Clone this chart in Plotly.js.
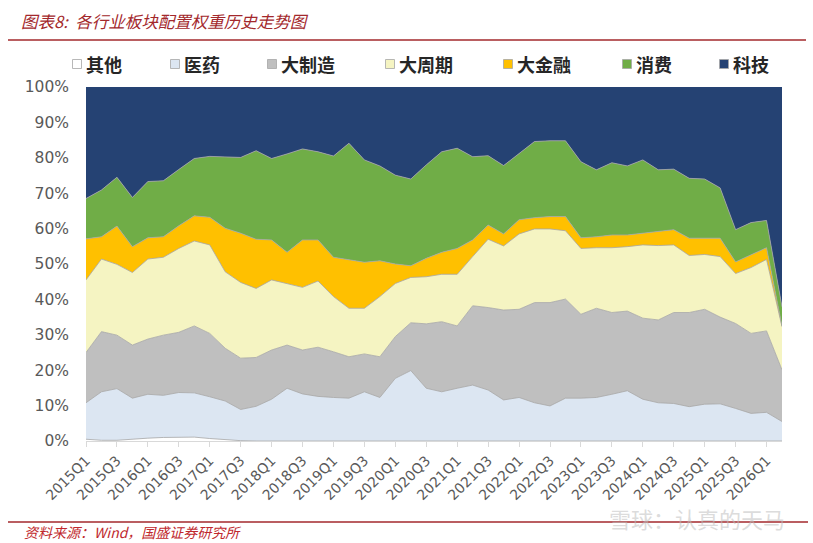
<!DOCTYPE html>
<html>
<head>
<meta charset="utf-8">
<script src="https://cdn.plot.ly/plotly-3.0.1.min.js"></script>
<style>html,body{margin:0;padding:0;background:#fff;}#chart{width:813px;height:543px;}</style>
</head>
<body>
<div id="chart"></div>
<script>
// ---- data (percent weights per quarter) ----
var quarters = ["2015Q1","2015Q2","2015Q3","2015Q4","2016Q1","2016Q2","2016Q3","2016Q4",
  "2017Q1","2017Q2","2017Q3","2017Q4","2018Q1","2018Q2","2018Q3","2018Q4",
  "2019Q1","2019Q2","2019Q3","2019Q4","2020Q1","2020Q2","2020Q3","2020Q4",
  "2021Q1","2021Q2","2021Q3","2021Q4","2022Q1","2022Q2","2022Q3","2022Q4",
  "2023Q1","2023Q2","2023Q3","2023Q4","2024Q1","2024Q2","2024Q3","2024Q4",
  "2025Q1","2025Q2","2025Q3","2025Q4","2026Q1","2026Q2"];

var seriesNames = ["其他","医药","大制造","大周期","大金融","消费","科技"];

var other   = [0.5,0.2,0.2,0.6,0.8,1.0,1.1,1.1,0.7,0.3,0.1,0,0,0,0,0,0,0,0.1,0.1,0,0,0,0,0,0,0.2,0,0,0,0,0,0,0,0,0,0,0,0,0,0,0,0,0,0,0];
var pharma  = [10.3,13.7,14.6,11.5,12.4,11.9,12.6,12.5,11.8,11.0,8.8,9.8,11.8,14.9,13.3,12.6,12.3,12.1,13.8,12.2,17.7,19.9,14.9,13.9,14.9,15.8,14.2,11.6,12.3,10.8,9.9,12.1,12.1,12.3,13.2,14.2,11.8,10.8,10.6,9.7,10.4,10.5,9.2,7.8,8.1,5.5];
var manuf   = [14.2,17.0,15.1,15.0,15.6,17.0,17.0,18.9,17.9,14.9,14.5,13.8,13.9,12.2,12.4,13.9,12.9,11.7,10.7,11.5,11.8,13.5,18.2,19.8,17.6,22.4,23.3,25.4,24.9,28.3,29.2,28.0,23.7,25.2,23.1,22.5,22.9,23.4,25.7,26.6,26.8,24.5,24.0,22.6,23.0,14.6];
var cyclic  = [20.5,20.5,20.0,20.5,22.6,22.0,23.7,24.0,25.0,21.6,21.4,19.5,19.8,17.4,17.7,18.7,15.6,13.7,12.9,17.0,15.0,12.8,13.3,13.4,14.6,13.9,19.3,18.1,21.3,20.8,20.8,19.3,18.6,17.1,18.3,18.2,20.7,21.0,19.1,16.1,15.5,17.1,14.1,18.6,20.2,12.2];
var finance = [11.6,6.3,10.8,7.3,6.0,5.8,6.4,7.1,7.8,12.3,13.9,13.9,11.3,8.8,13.4,11.6,11.1,13.6,13.0,10.1,5.5,3.3,5.2,6.2,7.3,4.7,4.0,3.4,4.0,3.2,3.5,4.0,3.0,3.1,3.6,3.3,3.3,3.9,4.3,4.9,4.6,5.2,3.3,3.5,3.3,0.2];
var consume = [11.4,13.2,13.8,13.9,15.9,15.8,15.9,16.2,17.2,20.1,21.4,25.0,23.0,27.8,25.7,24.9,28.6,33.0,28.9,26.8,25.1,24.5,26.4,28.4,28.3,23.5,19.6,19.3,18.8,21.5,21.4,21.4,21.5,18.9,20.4,19.5,20.7,17.5,17.1,16.9,16.7,14.2,9.1,9.2,7.7,5.4];
var tech    = [31.5,29.1,25.5,31.2,26.7,26.5,23.3,20.2,19.6,19.8,19.9,18.0,20.2,18.9,17.5,18.3,19.5,15.9,20.6,22.3,24.9,26.0,22.0,18.3,17.3,19.7,19.4,22.2,18.7,15.4,15.2,15.2,21.1,23.4,21.4,22.3,20.6,23.4,23.2,25.8,26.0,28.5,40.3,38.3,37.7,62.1];

var yTicks = [0,10,20,30,40,50,60,70,80,90,100];

// ---- styling ----
var colors = ["#ffffff","#dce6f2","#bfbfbf","#f5f4c2","#ffc000","#70ad47","#254273"];
var values = [other, pharma, manuf, cyclic, finance, consume, tech];

var traces = values.map(function(v, k){
  return {
    type: "scatter", mode: "lines",
    x: quarters, y: v, name: seriesNames[k],
    stackgroup: "one",
    fillcolor: colors[k],
    line: {color: k === 6 ? colors[6] : "#a6a6a6", width: k === 6 ? 0 : 0.8, shape: "linear"},
    showlegend: false, hoverinfo: "skip"
  };
});

// plot area geometry (pixels) for paper conversions of decorations
var L = 86, R = 782, T = 87, B = 441;
function px(x){ return (x - L) / (R - L); }
function py(y){ return (B - y) / (B - T); }

var tickLabels = quarters.filter(function(q, i){ return i % 2 === 0; });

// manual legend (matches reference spacing)
var legendX = [77, 175, 272, 390, 508, 627, 724];
var legendY = 64;
var shapes = [];
var annotations = [];
seriesNames.forEach(function(n, k){
  shapes.push({type:"rect", xref:"paper", yref:"paper",
    x0: px(legendX[k]-4.5), x1: px(legendX[k]+4.5),
    y0: py(legendY+4.5), y1: py(legendY-4.5),
    fillcolor: colors[k], line:{color:"#a6a6a6", width:0.8}});
  annotations.push({xref:"paper", yref:"paper", x: px(legendX[k]+7), y: py(legendY),
    xanchor:"left", yanchor:"middle", showarrow:false, text: n,
    font:{family:"Noto Sans CJK SC", size:18, color:"#262626", weight:700}});
});

// header / footer rules
shapes.push({type:"line", xref:"paper", yref:"paper", x0:px(8), x1:px(806), y0:py(40), y1:py(40),
  line:{color:"#a3282c", width:1.3}});
shapes.push({type:"line", xref:"paper", yref:"paper", x0:px(8), x1:px(808), y0:py(522), y1:py(522),
  line:{color:"#a3282c", width:1.3}});

annotations.push({xref:"paper", yref:"paper", x:px(22), y:py(532), xanchor:"left", yanchor:"middle",
  showarrow:false, text:"资料来源：Wind，国盛证券研究所",
  font:{family:"Noto Sans CJK SC", size:14, color:"#c0282d", style:"italic"}});
annotations.push({xref:"paper", yref:"paper", x:px(697), y:py(518), xanchor:"center", yanchor:"middle",
  showarrow:false, text:"雪球：认真的天马",
  font:{family:"Noto Sans CJK SC", size:22, color:"rgba(190,190,190,0.55)"}});

var layout = {
  width: 813, height: 543,
  margin: {l: L, r: 813 - R, t: T, b: 543 - B},
  paper_bgcolor: "#ffffff", plot_bgcolor: "#ffffff",
  showlegend: false,
  title: {text: "图表8:  各行业板块配置权重历史走势图", xref:"container", yref:"container",
    x: 21/813, xanchor:"left", y: 1 - 22/543, yanchor:"middle",
    font:{family:"Noto Sans CJK SC", size:16.5, color:"#a3282c", style:"italic"}},
  xaxis: {
    type: "category", range: [0, quarters.length - 1],
    tickmode: "array", tickvals: tickLabels, ticktext: tickLabels,
    tickangle: -45, ticks: "outside", ticklen: 5, tickcolor: "#d9d9d9",
    showline: true, linecolor: "#d9d9d9", linewidth: 1,
    showgrid: false, zeroline: false,
    tickfont: {family: "DejaVu Sans", size: 14, color: "#595959"}
  },
  yaxis: {
    range: [0, 100], tickmode: "array", tickvals: yTicks,
    ticktext: yTicks.map(function(t){ return t + "%"; }),
    ticks: "", showline: false, showgrid: false, zeroline: false,
    ticklabelstandoff: 16,
    tickfont: {family: "DejaVu Sans", size: 15.5, color: "#595959"}
  },
  shapes: shapes,
  annotations: annotations
};

Plotly.newPlot("chart", traces, layout, {staticPlot: true, displayModeBar: false});
</script>
</body>
</html>
